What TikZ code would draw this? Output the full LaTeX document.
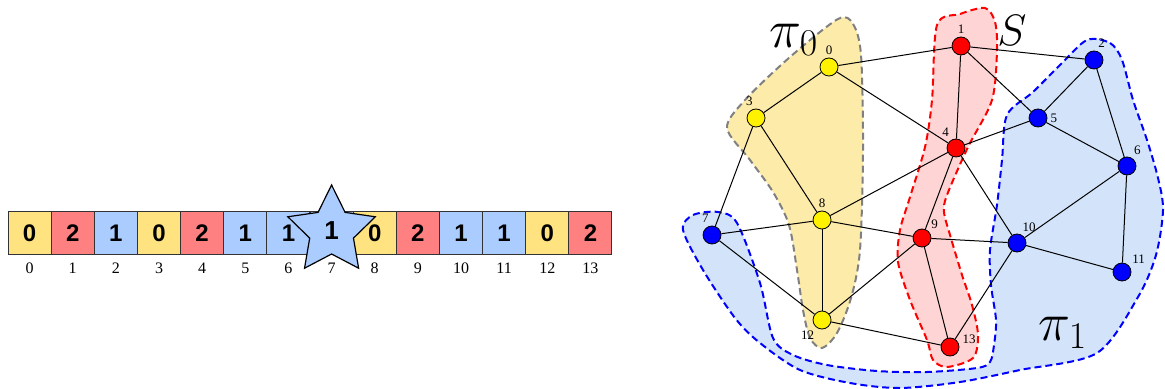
\RequirePackage{fix-cm}
\documentclass[tikz,border=0pt]{standalone}
\usepackage{fontspec}
\setmainfont{Liberation Serif}
\newfontfamily\cellfont{Liberation Sans}
\usetikzlibrary{shapes.geometric}
\definecolor{cellyellow}{RGB}{255, 227, 128}
\definecolor{cellred}{RGB}{255, 128, 128}
\definecolor{cellblue}{RGB}{170, 204, 255}
\definecolor{hullyellow}{RGB}{253, 235, 170}
\definecolor{hullred}{RGB}{255, 212, 212}
\definecolor{hullblue}{RGB}{210, 227, 250}
\definecolor{hullgray}{RGB}{128, 128, 128}
\tikzset{
  arraycell/.style={draw=black!80, line width=0.5pt, minimum size=21.5pt, inner sep=0pt,
    font=\cellfont\bfseries\fontsize{12}{14}\selectfont},
  idx/.style={font=\fontsize{8}{9}\selectfont, inner sep=0pt},
  vertex/.style={circle, draw=black, line width=0.4pt, minimum size=9pt, inner sep=0pt},
  vlabel/.style={font=\fontsize{6.5}{7}\selectfont, inner sep=0.6pt},
  hull/.style={line width=1pt, dash pattern=on 3.5pt off 2pt},
  biglabel/.style={inner sep=0pt}
}

\begin{document}
\begin{tikzpicture}[x=0.5pt, y=-0.5pt]
  \useasboundingbox (0, 0) rectangle (1165, 389);

  % the array (cell 7 sits under the star)
  \foreach \i/\v/\c in {0/0/cellyellow, 1/2/cellred, 2/1/cellblue, 3/0/cellyellow, 4/2/cellred,
                        5/1/cellblue, 6/1/cellblue, 7//cellblue, 8/0/cellyellow, 9/2/cellred,
                        10/1/cellblue, 11/1/cellblue, 12/0/cellyellow, 13/2/cellred} {
    \node[arraycell, fill=\c] (c\i) at ({29.6 + 43.14*\i}, 233.5) {\v};
    \node[idx] (i\i) at ({29.6 + 43.14*\i}, 268) {\i};
  }
  \node[star, star points=5, star point ratio=2, minimum size=46pt, inner sep=0pt,
        draw=black, line width=0.6pt, fill=cellblue,
        font=\cellfont\bfseries\fontsize{13}{15}\selectfont] (pick) at ({29.6 + 43.14*7}, 231) {1};

  % hulls
  \filldraw[hull, fill=hullblue, draw=blue] plot[smooth cycle, tension=0.5] coordinates {
    (1087,40) (1110,43) (1122,60) (1133,100) (1147,140) (1158,178) (1163,210) (1156,255)
    (1138,297) (1097,353) (1020,370) (960,382) (900,388) (850,383) (800,370) (760,343)
    (735,318) (703,270) (683,230) (693,215) (718,212) (737,223) (760,283) (773,338)
    (793,355) (827,365) (877,371) (927,372) (977,368) (990,362) (994,345) (996,320)
    (991,285) (990,250) (997,205) (1002,160) (1007,115) (1033,92) (1062,63)};
  \filldraw[hull, fill=hullred, draw=red] plot[smooth cycle, tension=0.5] coordinates {
    (937,25) (960,14) (985,8) (995,22) (997,50) (992,100) (968,147) (947,195)
    (944,212) (950,235) (962,275) (972,305) (978,335) (973,358) (947,367) (933,360)
    (927,340) (910,300) (898,262) (900,230) (910,197) (925,147) (932,100)};
  \filldraw[hull, fill=hullyellow, draw=hullgray] plot[smooth cycle, tension=0.5] coordinates {
    (838,19) (853,24) (861,55) (863,150) (860,250) (851,298) (837,333) (822,348)
    (810,338) (803,310) (797,270) (789,225) (773,192) (750,160) (727,128) (745,100)
    (790,57)};

  % vertices
  \foreach \n/\x/\y/\c/\a in {0/829/67/yellow/90, 1/961/46/red/90, 2/1094/60/blue/75,
                              3/756/118/yellow/100, 4/956/148/red/120, 5/1038/118/blue/0,
                              6/1127/166/blue/60, 7/712/235/blue/100, 8/822/220/yellow/90,
                              9/922/238/red/45, 10/1017/243/blue/68, 11/1122/272/blue/38,
                              12/822/320/yellow/235, 13/950/347/red/8} {
    \node[vertex, fill=\c, label={[vlabel, label distance=0.8pt]\a:\n}] (v\n) at (\x, \y) {};
  }

  \foreach \a/\b in {0/1, 0/3, 0/4, 1/2, 1/4, 1/5, 2/5, 2/6, 3/7, 3/8, 4/5, 4/8, 4/9, 4/10,
                     5/6, 6/10, 6/11, 7/8, 7/12, 8/9, 8/12, 9/10, 9/12, 9/13, 10/11, 10/13, 12/13} {
    \draw[line width=0.5pt] (v\a) -- (v\b);
  }

  % set names
  \node[biglabel, font=\fontsize{27}{30}\selectfont] (pizero) at (794, 40) {$\pi_0$};
  \node[biglabel, font=\fontsize{22}{26}\selectfont] (sep) at (1012, 30) {$S$};
  \node[biglabel, font=\fontsize{27}{30}\selectfont] (pione) at (1063, 333) {$\pi_1$};

\end{tikzpicture}
\end{document}
